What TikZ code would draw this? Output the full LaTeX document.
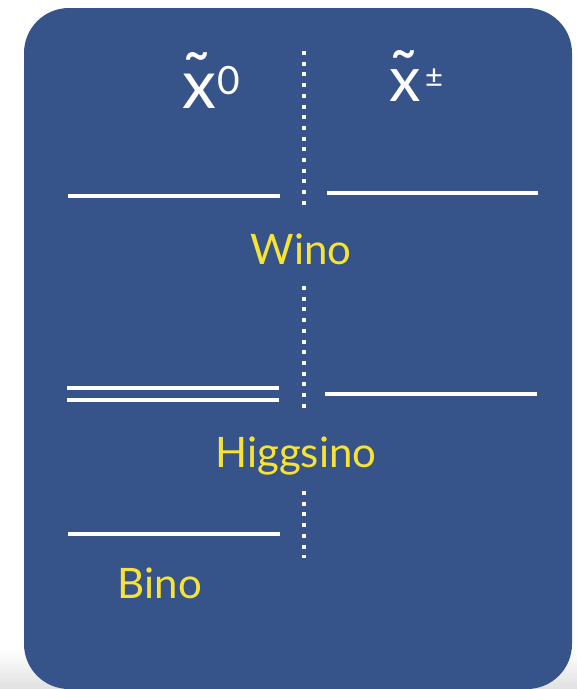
\documentclass[tikz,border=0pt]{standalone}
\usepackage{fontspec}
\setmainfont{Lato}
\definecolor{boxblue}{HTML}{36548A}
\definecolor{labelyellow}{HTML}{F7E335}
\newcommand{\tildeover}[2]{\rlap{\hspace{#1}\raisebox{#2}[0pt][0pt]{\fontsize{72}{72}\selectfont\char"02DC}}}
\tikzset{
  level/.style={draw=white, line width=4pt},
  sep/.style={draw=white, line width=4pt, dash pattern=on 4pt off 6.7pt},
  typelabel/.style={text=labelyellow, font=\fontsize{42}{42}\selectfont, inner sep=0pt, anchor=base},
  sym/.style={text=white, inner sep=0pt, anchor=base west}
}
\begin{document}
\begin{tikzpicture}[x=1pt,y=-1pt]
\useasboundingbox (0,0) rectangle (577,689);
\shade[top color=white, bottom color=black!12] (0,650) rectangle (577,689);
\fill[boxblue, rounded corners=45pt] (24,8) rectangle (572,689);
% header symbols
\node[sym, font=\fontsize{68}{68}\selectfont] (x0) at (182,108) {\tildeover{0pt}{5pt}x};
\node[sym, font=\fontsize{39}{39}\selectfont] (z0) at (217,94) {0};
\node[sym, font=\fontsize{63}{63}\selectfont] (xpm) at (389,101) {\tildeover{0pt}{0pt}x};
\node[sym, font=\fontsize{31}{31}\selectfont] (pm) at (425,87) {±};
% separators
\draw[sep] (304,51) -- (304,205);
\draw[sep] (304,286) -- (304,408);
\draw[sep] (304,491) -- (304,558);
% wino
\draw[level] (68,196) -- (280,196);
\draw[level] (327,193) -- (538,193);
\node[typelabel] (wino) at (301,264) {Wino};
% higgsino
\draw[level] (67,388) -- (279,388);
\draw[level] (67,400) -- (279,400);
\draw[level] (325,394) -- (537,394);
\node[typelabel] (higgsino) at (296,467) {Higgsino};
% bino
\draw[level] (68,534) -- (280,534);
\node[typelabel] (bino) at (160,598) {Bino};
\end{tikzpicture}
\end{document}
